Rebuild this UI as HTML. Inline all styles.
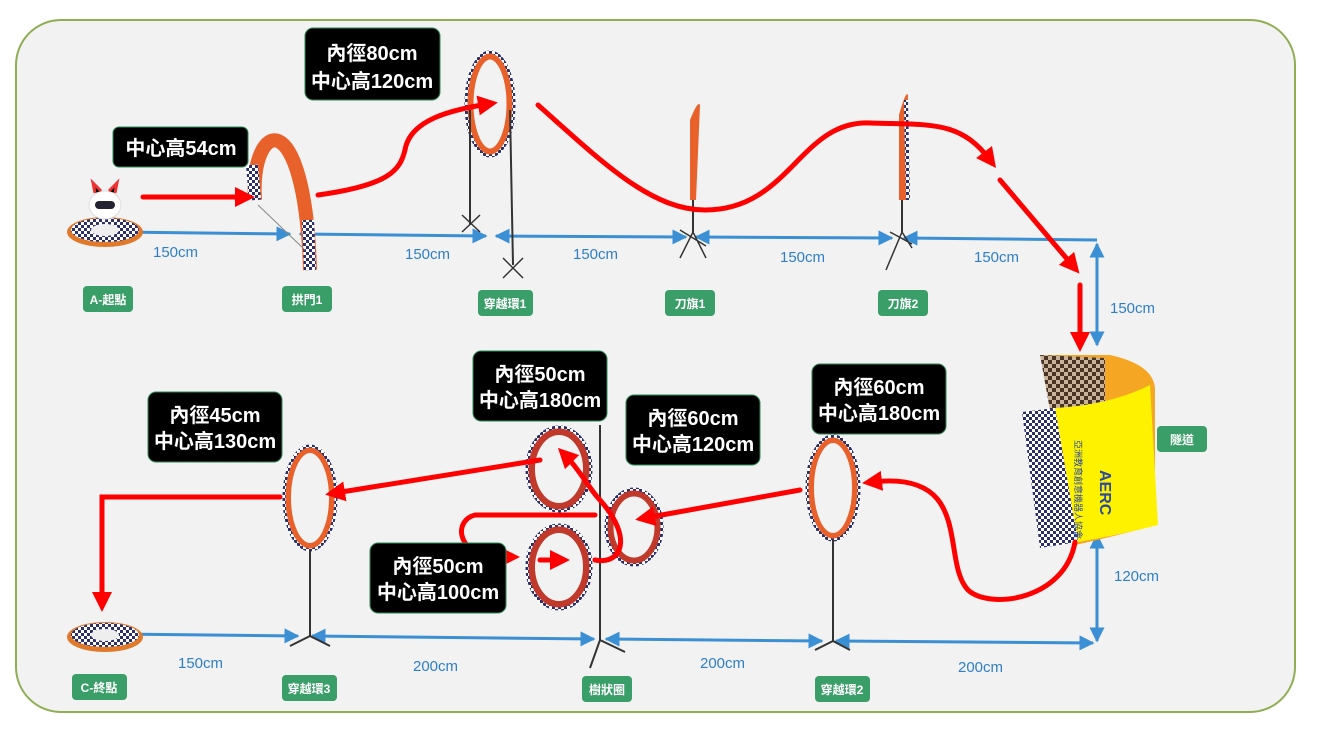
<!DOCTYPE html>
<html><head><meta charset="utf-8"><style>
html,body{margin:0;padding:0;background:#fff;}
svg{display:block;font-family:"Liberation Sans","Noto Sans CJK TC",sans-serif;}
</style></head><body>
<svg width="1328" height="751" viewBox="0 0 1328 751" xmlns="http://www.w3.org/2000/svg">
<defs>
<marker id="ra" markerWidth="4" markerHeight="4" refX="2" refY="2" orient="auto" markerUnits="strokeWidth"><path d="M0,0 L4,2 L0,4 z" fill="#f00"/></marker>
<marker id="ba" markerWidth="5" markerHeight="5" refX="4.5" refY="2.5" orient="auto" markerUnits="strokeWidth"><path d="M0,0 L5,2.5 L0,5 z" fill="#3b8fd4"/></marker>
<marker id="bs" markerWidth="5" markerHeight="5" refX="0.5" refY="2.5" orient="auto" markerUnits="strokeWidth"><path d="M5,0 L0,2.5 L5,5 z" fill="#3b8fd4"/></marker>
<pattern id="chk" width="6" height="6" patternUnits="userSpaceOnUse"><rect width="6" height="6" fill="#fff"/><rect width="3" height="3" fill="#2b2f6b"/><rect x="3" y="3" width="3" height="3" fill="#2b2f6b"/></pattern>
<pattern id="chk2" width="8" height="8" patternUnits="userSpaceOnUse"><rect width="8" height="8" fill="#c9b49a"/><rect width="4" height="4" fill="#4a3428"/><rect x="4" y="4" width="4" height="4" fill="#4a3428"/></pattern>
</defs>
<rect x="16" y="20" width="1279" height="692" rx="45" fill="#f2f2f2" stroke="#8fae52" stroke-width="2"/>

<g stroke="#3b8fd4" stroke-width="3" fill="none">
<line x1="112" y1="232" x2="290" y2="234" marker-start="url(#bs)" marker-end="url(#ba)"/>
<line x1="300" y1="234" x2="486" y2="236" marker-start="url(#bs)" marker-end="url(#ba)"/>
<line x1="496" y1="236" x2="686" y2="237" marker-start="url(#bs)" marker-end="url(#ba)"/>
<line x1="696" y1="237" x2="892" y2="238" marker-start="url(#bs)" marker-end="url(#ba)"/>
<line x1="904" y1="238" x2="1097" y2="240" marker-start="url(#bs)"/>
<line x1="1097" y1="244" x2="1097" y2="345" marker-start="url(#bs)" marker-end="url(#ba)"/>
<line x1="1097" y1="535" x2="1097" y2="641" marker-start="url(#bs)" marker-end="url(#ba)"/>
<line x1="112" y1="634" x2="298" y2="636" marker-start="url(#bs)" marker-end="url(#ba)"/>
<line x1="312" y1="636" x2="594" y2="639" marker-start="url(#bs)" marker-end="url(#ba)"/>
<line x1="606" y1="639" x2="822" y2="641" marker-start="url(#bs)" marker-end="url(#ba)"/>
<line x1="836" y1="641" x2="1093" y2="643" marker-start="url(#bs)" marker-end="url(#ba)"/>
</g>
<g fill="#2e7fc8" font-size="15">
<text x="153" y="257">150cm</text><text x="405" y="259">150cm</text><text x="573" y="259">150cm</text>
<text x="780" y="262">150cm</text><text x="974" y="262">150cm</text><text x="1110" y="313">150cm</text>
<text x="1114" y="581">120cm</text><text x="178" y="668">150cm</text><text x="413" y="671">200cm</text>
<text x="700" y="668">200cm</text><text x="958" y="672">200cm</text>
</g>

<ellipse cx="105" cy="232" rx="38" ry="15" fill="#e07a2a"/><ellipse cx="105" cy="230" rx="34" ry="12" fill="url(#chk)"/><ellipse cx="105" cy="230" rx="14" ry="6" fill="#eee"/>
<g transform="translate(105,205)"><ellipse cx="0" cy="0" rx="16" ry="14" fill="#fff" stroke="#ddd"/><rect x="-10" y="-4" width="20" height="8" rx="4" fill="#223"/><path d="M-10,-12 L-12,-22 L-4,-14 M10,-12 L12,-22 L4,-14" stroke="#e33" stroke-width="3"/></g>
<ellipse cx="105" cy="637" rx="38" ry="15" fill="#e07a2a"/><ellipse cx="105" cy="635" rx="34" ry="12" fill="url(#chk)"/><ellipse cx="105" cy="635" rx="14" ry="6" fill="#eee"/>

<path d="M255,200 C250,120 305,100 310,270" fill="none" stroke="#e8612a" stroke-width="14"/>
<path d="M255,200 L252,165 M308,220 L310,270" stroke="url(#chk)" stroke-width="12"/>
<line x1="258" y1="205" x2="305" y2="250" stroke="#888"/>
<ellipse cx="490" cy="104" rx="20" ry="48" fill="none" stroke="#e8612a" stroke-width="7"/>
<ellipse cx="490" cy="104" rx="24" ry="52" fill="none" stroke="url(#chk)" stroke-width="3"/>
<line x1="470" y1="110" x2="470" y2="225" stroke="#333" stroke-width="2"/><line x1="510" y1="110" x2="513" y2="265" stroke="#333" stroke-width="2"/>
<path d="M462,215 L480,232 M462,232 L480,215 M503,258 L523,278 M503,278 L523,258" stroke="#333" stroke-width="1.5"/>
<path d="M690,120 Q698,100 700,105 L696,200 L690,200 Z" fill="#e8612a"/><line x1="693" y1="200" x2="693" y2="232" stroke="#333" stroke-width="2"/>
<path d="M680,258 L693,232 L706,258 M680,230 L706,246" stroke="#333" stroke-width="1.5" fill="none"/>
<path d="M899,115 Q906,90 908,95 L906,200 L899,200 Z" fill="#e8612a"/><path d="M906,100 L908,200" stroke="url(#chk)" stroke-width="4"/><line x1="902" y1="200" x2="902" y2="232" stroke="#333" stroke-width="2"/>
<path d="M886,270 L902,232 L912,248 M890,232 L912,244" stroke="#333" stroke-width="1.5" fill="none"/>

<path d="M1040,355 L1110,355 Q1155,365 1155,390 L1155,525 Q1120,535 1075,545 L1055,420 Z" fill="#f5a623"/>
<path d="M1040,355 L1105,358 L1105,410 L1050,410 Z" fill="url(#chk2)"/>
<path d="M1055,408 Q1110,405 1150,385 L1158,525 Q1120,535 1078,542 Z" fill="#fff200"/>
<path d="M1022,412 L1055,408 L1078,542 L1040,548 Z" fill="url(#chk)"/>
<text x="1100" y="470" font-size="16" fill="#2b4aa0" font-weight="bold" transform="rotate(90 1100 470)">AERC</text>
<text x="1075" y="440" font-size="9" fill="#2b4aa0" transform="rotate(90 1075 440)">亞洲教育創意機器人協會</text>

<g fill="none">
<ellipse cx="310" cy="498" rx="22" ry="48" stroke="#e8612a" stroke-width="6"/><ellipse cx="310" cy="498" rx="26" ry="52" stroke="url(#chk)" stroke-width="3"/>
<ellipse cx="833" cy="488" rx="22" ry="48" stroke="#e8612a" stroke-width="6"/><ellipse cx="833" cy="488" rx="26" ry="52" stroke="url(#chk)" stroke-width="3"/>
<ellipse cx="559" cy="469" rx="28" ry="38" stroke="#c0392b" stroke-width="8"/><ellipse cx="559" cy="469" rx="32" ry="42" stroke="url(#chk)" stroke-width="3"/>
<ellipse cx="559" cy="567" rx="28" ry="38" stroke="#c0392b" stroke-width="8"/><ellipse cx="559" cy="567" rx="32" ry="42" stroke="url(#chk)" stroke-width="3"/>
<ellipse cx="634" cy="527" rx="24" ry="34" stroke="#c0392b" stroke-width="7"/><ellipse cx="634" cy="527" rx="28" ry="38" stroke="url(#chk)" stroke-width="3"/>
</g>
<g stroke="#333" stroke-width="2">
<line x1="310" y1="550" x2="310" y2="636"/><line x1="833" y1="540" x2="833" y2="641"/><line x1="600" y1="425" x2="600" y2="640"/>
<path d="M290,646 L310,636 L330,646 M815,650 L833,641 L850,650 M590,668 L600,640 L625,652" fill="none"/>
</g>

<g stroke="#f00" stroke-width="5" fill="none" stroke-linecap="round">
<line x1="143" y1="197" x2="245" y2="197" marker-end="url(#ra)"/>
<path d="M318,195 C390,185 400,170 405,150 C410,120 450,110 488,104" marker-end="url(#ra)"/>
<path d="M538,105 C600,160 650,210 705,210 C790,210 800,120 870,123 C930,125 960,120 990,160" marker-end="url(#ra)"/>
<line x1="1000" y1="180" x2="1073" y2="266" marker-end="url(#ra)"/>
<line x1="1080" y1="285" x2="1080" y2="342" marker-end="url(#ra)"/>
<path d="M1075,542 C1065,600 990,610 968,590 C940,560 975,470 872,482" marker-end="url(#ra)"/>
<line x1="800" y1="490" x2="645" y2="518" marker-end="url(#ra)"/>
<path d="M595,560 C620,565 635,540 600,500 C590,490 580,470 565,455" marker-end="url(#ra)"/>
<path d="M595,515 L475,515 C455,520 455,550 490,557 L510,557" marker-end="url(#ra)"/>
<line x1="540" y1="560" x2="560" y2="560" marker-end="url(#ra)"/>
<line x1="540" y1="460" x2="335" y2="493" marker-end="url(#ra)"/>
<path d="M280,497 L102,497 L102,602" marker-end="url(#ra)"/>
</g>

<g font-size="20" fill="#fff" text-anchor="middle" font-weight="bold">
<rect x="113" y="127" width="135" height="40" rx="6" fill="#000" stroke="#2e8b57"/><text x="181" y="155">中心高54cm</text>
<rect x="305" y="28" width="135" height="72" rx="8" fill="#000" stroke="#2e8b57"/><text x="372" y="60">內徑80cm</text><text x="372" y="88">中心高120cm</text>
<rect x="148" y="392" width="134" height="70" rx="8" fill="#000" stroke="#2e8b57"/><text x="215" y="422">內徑45cm</text><text x="215" y="448">中心高130cm</text>
<rect x="473" y="351" width="134" height="70" rx="8" fill="#000" stroke="#2e8b57"/><text x="540" y="381">內徑50cm</text><text x="540" y="407">中心高180cm</text>
<rect x="626" y="395" width="134" height="70" rx="8" fill="#000" stroke="#2e8b57"/><text x="693" y="425">內徑60cm</text><text x="693" y="451">中心高120cm</text>
<rect x="812" y="364" width="134" height="70" rx="8" fill="#000" stroke="#2e8b57"/><text x="879" y="394">內徑60cm</text><text x="879" y="420">中心高180cm</text>
<rect x="370" y="543" width="136" height="70" rx="8" fill="#000" stroke="#2e8b57"/><text x="438" y="573">內徑50cm</text><text x="438" y="599">中心高100cm</text>
</g>

<g font-size="12" fill="#fff" text-anchor="middle" font-weight="bold">
<rect x="83" y="286" width="50" height="26" rx="4" fill="#3a9e68"/><text x="108" y="304">A-起點</text>
<rect x="282" y="286" width="50" height="26" rx="4" fill="#3a9e68"/><text x="307" y="304">拱門1</text>
<rect x="478" y="290" width="55" height="26" rx="4" fill="#3a9e68"/><text x="505" y="308">穿越環1</text>
<rect x="665" y="290" width="50" height="26" rx="4" fill="#3a9e68"/><text x="690" y="308">刀旗1</text>
<rect x="878" y="290" width="50" height="26" rx="4" fill="#3a9e68"/><text x="903" y="308">刀旗2</text>
<rect x="1157" y="426" width="50" height="26" rx="4" fill="#3a9e68"/><text x="1182" y="444">隧道</text>
<rect x="72" y="674" width="55" height="26" rx="4" fill="#3a9e68"/><text x="99" y="692">C-終點</text>
<rect x="282" y="675" width="55" height="26" rx="4" fill="#3a9e68"/><text x="309" y="693">穿越環3</text>
<rect x="582" y="676" width="50" height="26" rx="4" fill="#3a9e68"/><text x="607" y="694">樹狀圈</text>
<rect x="815" y="676" width="55" height="26" rx="4" fill="#3a9e68"/><text x="842" y="694">穿越環2</text>
</g>
</svg>
</body></html>
